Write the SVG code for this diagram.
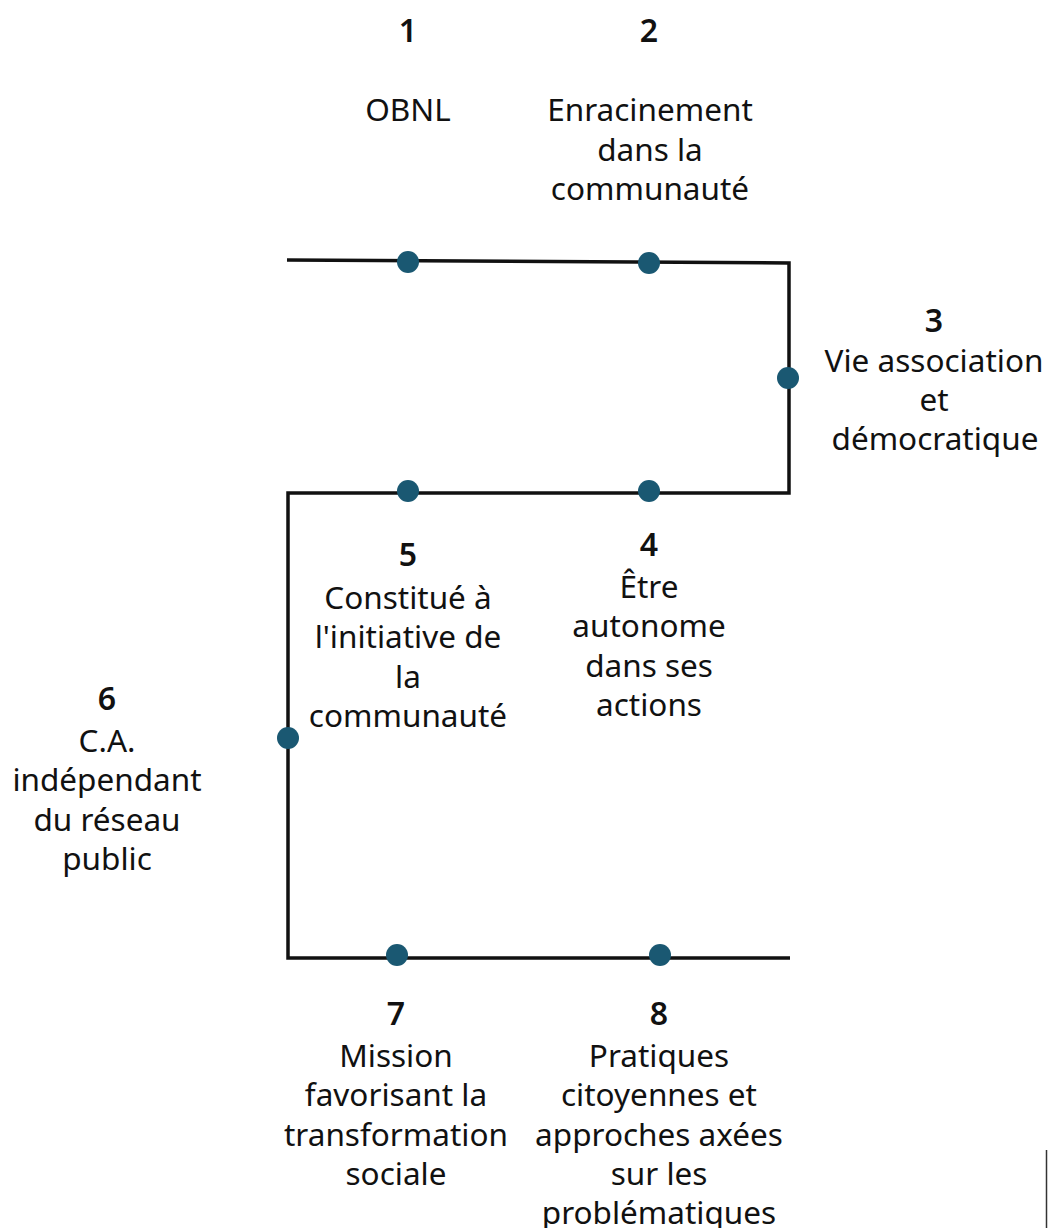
<svg xmlns="http://www.w3.org/2000/svg" width="1048" height="1228" viewBox="0 0 1048 1228">
<style>
text{font-family:"Noto Sans","Open Sans","Liberation Sans",sans-serif;font-size:31.5px;fill:#111;text-anchor:middle}
.n{font-weight:600;font-size:32px}
.dot{fill:#1a5872}
.ln{fill:none;stroke:#111;stroke-width:3.5}
</style>
<rect width="1048" height="1228" fill="#fff"/>
<g id="connectors">
<polyline class="ln" points="287,260 789,263 789,493 288,493 288,958 790,958"/>
<line x1="1046.5" y1="1150" x2="1046.5" y2="1228" stroke="#333" stroke-width="1.5"/>
</g>
<g id="node1"><circle class="dot" cx="408" cy="262" r="11"/><text class="n" x="408" y="42">1</text><text x="408" y="121">OBNL</text></g>
<g id="node2"><circle class="dot" cx="649" cy="263" r="11"/><text class="n" x="649" y="42">2</text><text x="650" y="121">Enracinement</text><text x="650" y="161">dans la</text><text x="650" y="200">communauté</text></g>
<g id="node3"><circle class="dot" cx="788" cy="378" r="11"/><text class="n" x="934" y="332">3</text><text x="934" y="372">Vie association</text><text x="934" y="411">et</text><text x="935" y="450">démocratique</text></g>
<g id="node4"><circle class="dot" cx="649" cy="491" r="11"/><text class="n" x="649" y="556">4</text><text x="649" y="598">Être</text><text x="649" y="637">autonome</text><text x="649" y="677">dans ses</text><text x="649" y="716">actions</text></g>
<g id="node5"><circle class="dot" cx="408" cy="491" r="11"/><text class="n" x="408" y="566">5</text><text x="408" y="609">Constitué à</text><text x="408" y="648">l'initiative de</text><text x="408" y="688">la</text><text x="408" y="727">communauté</text></g>
<g id="node6"><circle class="dot" cx="288" cy="738" r="11"/><text class="n" x="107" y="710">6</text><text x="107" y="752">C.A.</text><text x="107" y="791">indépendant</text><text x="107" y="831">du réseau</text><text x="107" y="870">public</text></g>
<g id="node7"><circle class="dot" cx="397" cy="955" r="11"/><text class="n" x="396" y="1025">7</text><text x="396" y="1067">Mission</text><text x="396" y="1106">favorisant la</text><text x="396" y="1146">transformation</text><text x="396" y="1185">sociale</text></g>
<g id="node8"><circle class="dot" cx="660" cy="955" r="11"/><text class="n" x="659" y="1025">8</text><text x="659" y="1067">Pratiques</text><text x="659" y="1106">citoyennes et</text><text x="659" y="1146">approches axées</text><text x="659" y="1185">sur les</text><text x="659" y="1224">problématiques</text></g>
</svg>
